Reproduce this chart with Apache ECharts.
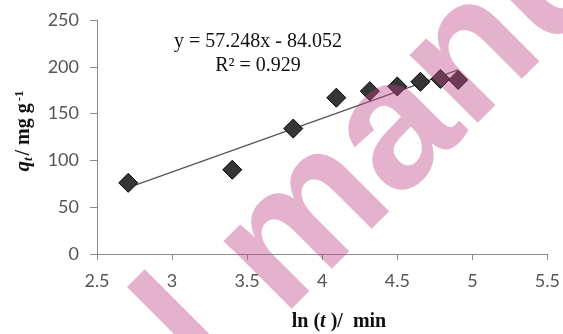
<!DOCTYPE html>
<html>
<head>
<meta charset="utf-8">
<script src="https://cdn.jsdelivr.net/npm/echarts@6/dist/echarts.min.js"></script>
<style>
  html, body { margin: 0; padding: 0; background: #fff; }
  #chart { width: 563px; height: 334px; }
</style>
</head>
<body>
<div id="chart"></div>
<script>
// ln(t) for each sampling time and the measured uptake q_t (mg/g)
const lnT = [2.708, 3.401, 3.807, 4.094, 4.317, 4.500, 4.654, 4.787, 4.905];
const qt = [76, 90, 134, 167, 174, 179, 184, 187, 186];

// Linear trend line (Elovich fit)
const slope = 57.248;
const intercept = -84.052;
const rSquared = 0.929;

const xTicks = { min: 2.5, max: 5.5, step: 0.5 };
const yTicks = { min: 0, max: 250, step: 50 };

const fitLine = [lnT[0], lnT[lnT.length - 1]].map(x => [x, slope * x + intercept]);

const chart = echarts.init(document.getElementById('chart'), null, { renderer: 'canvas' });

const axisGray = '#8c8c8c';
const labelStyle = { color: '#555', fontSize: 18, fontFamily: 'Lato, Liberation Sans, sans-serif' };
const serif = 'Liberation Serif, Times New Roman, serif';

chart.setOption({
  backgroundColor: '#fff',
  animation: false,
  grid: { left: 97, right: 13, top: 20, bottom: 80 },
  xAxis: {
    type: 'value',
    min: xTicks.min, max: xTicks.max, interval: xTicks.step,
    axisLine: { show: true, lineStyle: { color: axisGray, width: 1 } },
    axisTick: { show: true, inside: false, length: 6, lineStyle: { color: axisGray } },
    axisLabel: Object.assign({ margin: 18 }, labelStyle),
    splitLine: { show: false }
  },
  yAxis: {
    type: 'value',
    min: yTicks.min, max: yTicks.max, interval: yTicks.step,
    axisLine: { show: true, lineStyle: { color: axisGray, width: 1 } },
    axisTick: { show: true, inside: false, length: 7, lineStyle: { color: axisGray } },
    axisLabel: Object.assign({ margin: 18 }, labelStyle),
    splitLine: { show: false }
  },
  series: [
    {
      type: 'line',
      data: fitLine,
      symbol: 'none',
      lineStyle: { color: '#555', width: 1.3 },
      z: 2
    },
    {
      type: 'scatter',
      data: lnT.map((x, i) => [x, qt[i]]),
      symbol: 'diamond',
      symbolSize: [19, 19],
      itemStyle: { color: '#363636', borderColor: '#000', borderWidth: 1, opacity: 1 },
      z: 3
    }
  ],
  graphic: [
    {
      type: 'text',
      x: 258, y: 42,
      style: {
        text: 'y = 57.248x - 84.052',
        textAlign: 'center', textVerticalAlign: 'middle',
        font: '20px ' + serif,
        fill: '#111'
      }
    },
    {
      type: 'text',
      x: 258, y: 66,
      style: {
        text: 'R² = ' + rSquared.toFixed(3),
        textAlign: 'center', textVerticalAlign: 'middle',
        font: '20px ' + serif,
        fill: '#111'
      }
    },
    {
      type: 'text',
      x: 339, y: 322,
      style: {
        text: '{b|ln (}{i|t }{b|)/  min}',
        textAlign: 'center', textVerticalAlign: 'middle',
        rich: {
          b: { font: 'bold 20px ' + serif, fill: '#111' },
          i: { font: 'italic bold 20px ' + serif, fill: '#111' }
        }
      }
    },
    {
      type: 'text',
      x: 24, y: 131,
      rotation: Math.PI / 2,
      style: {
        text: '{q|q}{s|t}{b|/ mg g}{sup|-1}',
        textAlign: 'center', textVerticalAlign: 'middle',
        rich: {
          q: { font: 'italic bold 21px ' + serif, fill: '#111' },
          s: { font: 'italic bold 13px ' + serif, fill: '#111', padding: [9, 2, 0, 0] },
          b: { font: 'bold 20px ' + serif, fill: '#111' },
          sup: { font: 'bold 13px ' + serif, fill: '#111', padding: [0, 0, 9, 2] }
        }
      }
    },
    {
      type: 'text',
      x: 240, y: 418,
      rotation: Math.PI / 4,
      z: 100,
      style: {
        text: 'l manuscript',
        textAlign: 'left', textVerticalAlign: 'bottom',
        font: 'bold 182px Liberation Sans, Arial, sans-serif',
        fill: 'rgba(189,67,133,0.41)'
      }
    }
  ]
});
</script>
</body>
</html>
